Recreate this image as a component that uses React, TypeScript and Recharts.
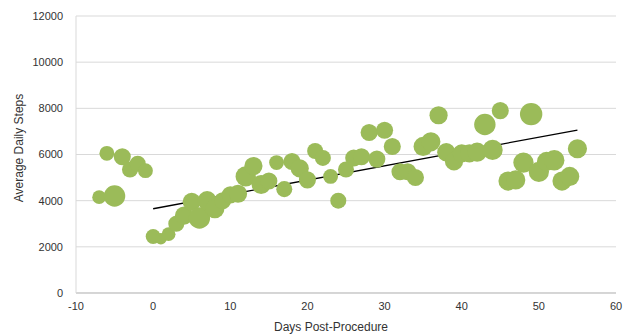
import { CartesianGrid, ReferenceLine, Scatter, ScatterChart, XAxis, YAxis, ZAxis } from 'recharts';

const days = [
    -7, -6, -5, -4, -3, -2, -1, 0, 1, 2, 3, 4, 5, 6, 7, 8, 9, 10, 11, 12, 13, 14, 15, 16, 17, 18, 19, 20, 21, 22, 23,
    24, 25, 26, 27, 28, 29, 30, 31, 32, 33, 34, 35, 36, 37, 38, 39, 40, 41, 42, 43, 44, 45, 46, 47, 48, 49, 50, 51,
    52, 53, 54, 55,
];

const avgSteps = [
    4150, 6050, 4200, 5900, 5350, 5600, 5300, 2450, 2350, 2550, 3000, 3350, 3950, 3250, 4000, 3650, 4000, 4250, 4300,
    5050, 5500, 4700, 4850, 5650, 4500, 5700, 5400, 4900, 6150, 5850, 5050, 4000, 5350, 5850, 5900, 6950, 5800, 7050,
    6350, 5250, 5250, 5000, 6350, 6550, 7700, 6100, 5700, 6050, 6050, 6100, 7300, 6200, 7900, 4850, 4900, 5650, 7750,
    5250, 5700, 5750, 4850, 5050, 6250,
];

// bubble size (relative)
const bubbleSize = [
    38, 44, 91, 58, 51, 51, 44, 44, 27, 38, 51, 66, 66, 91, 73, 73, 58, 58, 66, 82, 66, 73, 58, 44, 51, 58, 66, 58,
    51, 51, 44, 51, 51, 58, 58, 58, 58, 58, 58, 58, 58, 58, 73, 73, 66, 66, 66, 66, 66, 73, 91, 82, 58, 73, 73, 82,
    100, 82, 73, 82, 73, 73, 73,
];

const trendDays = [0, 55];
const trendSteps = [3650, 7060];

const xTicks = [-10, 0, 10, 20, 30, 40, 50, 60];
const yTicks = [0, 2000, 4000, 6000, 8000, 10000, 12000];

const points = days.map((d, i) => ({ day: d, steps: avgSteps[i], size: bubbleSize[i] }));

const FONT = '"Liberation Sans", Arial, sans-serif';
const TEXT = '#333333';

export default function App() {
    return (
        <div style={{ width: 630, height: 336, fontFamily: FONT }}>
            <style>{'body{margin:0}'}</style>
            <ScatterChart width={630} height={336} margin={{ top: 16, right: 14, bottom: 0, left: 0 }}>
                <CartesianGrid vertical={false} stroke="#d9d9d9" />
                <XAxis
                    type="number"
                    dataKey="day"
                    domain={[-10, 60]}
                    ticks={xTicks}
                    height={43}
                    stroke="#bfbfbf"
                    tickLine={false}
                    tickSize={5}
                    tickMargin={4}
                    tick={{ fill: TEXT, fontSize: 11, fontFamily: FONT }}
                    label={{
                        content: ({ viewBox }: any) => (
                            <text
                                x={viewBox.x + viewBox.width / 2 - 15}
                                y={331}
                                textAnchor="middle"
                                fill={TEXT}
                                fontSize={12}
                                fontFamily={FONT}
                            >
                                Days Post-Procedure
                            </text>
                        ),
                    }}
                />
                <YAxis
                    type="number"
                    dataKey="steps"
                    domain={[0, 12000]}
                    ticks={yTicks}
                    width={76}
                    stroke="#d9d9d9"
                    tickLine={false}
                    tickSize={5}
                    tickMargin={8}
                    tick={{ fill: TEXT, fontSize: 11, fontFamily: FONT }}
                    label={{
                        content: () => (
                            <text
                                x={0}
                                y={0}
                                transform="translate(23, 148) rotate(-90)"
                                textAnchor="middle"
                                fill={TEXT}
                                fontSize={12}
                                fontFamily={FONT}
                            >
                                Average Daily Steps
                            </text>
                        ),
                    }}
                />
                <ZAxis type="number" dataKey="size" domain={[0, 100]} range={[0, 395]} />
                <Scatter data={points} fill="#9bbb59" isAnimationActive={false} />
                <ReferenceLine
                    segment={[
                        { x: trendDays[0], y: trendSteps[0] },
                        { x: trendDays[1], y: trendSteps[1] },
                    ]}
                    stroke="#000000"
                    strokeWidth={1.3}
                />
            </ScatterChart>
        </div>
    );
}
